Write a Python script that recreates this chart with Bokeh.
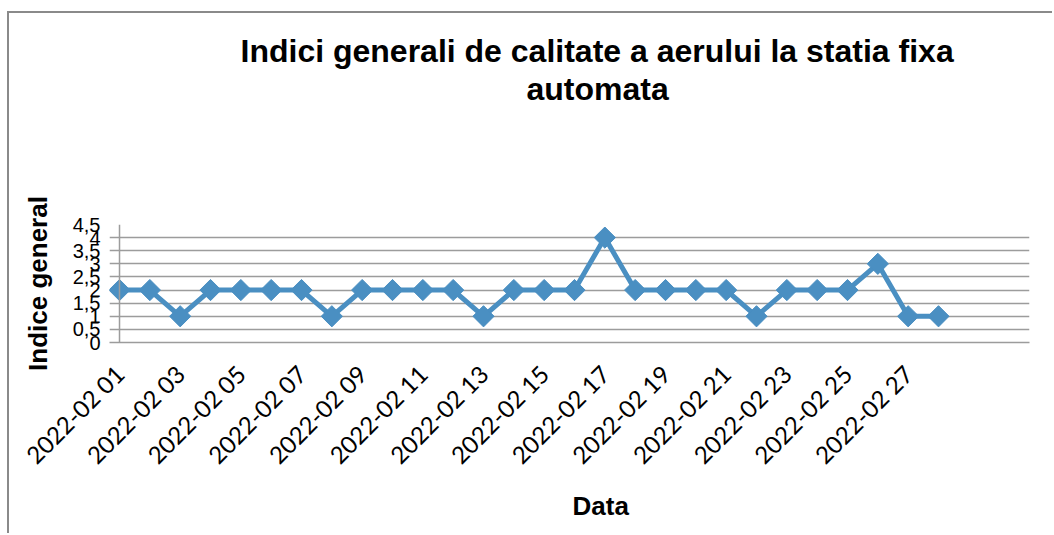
import math
from bokeh.plotting import figure
from bokeh.models import FixedTicker, Range1d, Span, Title
from bokeh.embed import file_html
from bokeh.resources import INLINE

# ---- data ----
dates = ["2022-02 01", "2022-02 02", "2022-02 03", "2022-02 04", "2022-02 05",
         "2022-02 06", "2022-02 07", "2022-02 08", "2022-02 09", "2022-02 10",
         "2022-02 11", "2022-02 12", "2022-02 13", "2022-02 14", "2022-02 15",
         "2022-02 16", "2022-02 17", "2022-02 18", "2022-02 19", "2022-02 20",
         "2022-02 21", "2022-02 22", "2022-02 23", "2022-02 24", "2022-02 25",
         "2022-02 26", "2022-02 27", "2022-02 28"]
values = [2, 2, 1, 2, 2, 2, 2, 1, 2, 2, 2, 2, 1, 2, 2, 2, 4, 2, 2, 2, 2, 1, 2, 2, 2, 3, 1, 1]
y_ticks = [0, 0.5, 1, 1.5, 2, 2.5, 3, 3.5, 4, 4.5]
y_labels = ["0", "0,5", "1", "1,5", "2", "2,5", "3", "3,5", "4", "4,5"]
n_categories = 31  # category slots on the axis
title_lines = ["Indici generali de calitate a aerului la statia fixa", "automata"]
x_title = "Data"
y_title = "Indice general"

xs = list(range(len(values)))
blue = "#4a8fc2"
grid = "#9c9c9c"

p = figure(width=1045, height=522, title=None,
           x_range=Range1d(-0.33, n_categories - 1), y_range=Range1d(0, 4.5),
           output_backend="svg", toolbar_location=None,
           min_border_left=100, min_border_right=25,
           min_border_top=211, min_border_bottom=193)
p.styles = {"margin-left": "7px", "margin-top": "11px",
            "border-left": "2px solid #8a8a8a", "border-top": "2px solid #8a8a8a"}
p.outline_line_color = None
p.background_fill_color = "white"
p.border_fill_color = "white"

# y axis
p.yaxis.ticker = FixedTicker(ticks=y_ticks)
p.yaxis.major_label_overrides = {t: l for t, l in zip(y_ticks, y_labels)}
p.yaxis.axis_line_color = None
p.yaxis.major_tick_out = 0
p.yaxis.major_tick_in = 0
p.yaxis.minor_tick_out = 0
p.yaxis.minor_tick_in = 0
p.yaxis.major_label_standoff = 9
p.yaxis.major_label_text_font = "Liberation Sans"
p.yaxis.major_label_text_font_size = "20px"
p.yaxis.major_label_text_color = "black"
p.yaxis.axis_label = y_title
p.yaxis.axis_label_text_font = "Liberation Sans"
p.yaxis.axis_label_text_font_size = "26px"
p.yaxis.axis_label_text_font_style = "bold"
p.yaxis.axis_label_text_color = "black"
p.yaxis.axis_label_standoff = 17

# x axis
tick_idx = list(range(0, len(dates), 2))
p.xaxis.ticker = FixedTicker(ticks=tick_idx)
p.xaxis.major_label_overrides = {i: dates[i] for i in tick_idx}
p.xaxis.major_label_orientation = math.pi / 4
p.xaxis.axis_line_color = grid
p.xaxis.axis_line_width = 1.5
p.xaxis.major_tick_out = 0
p.xaxis.major_tick_in = 0
p.xaxis.minor_tick_out = 0
p.xaxis.minor_tick_in = 0
p.xaxis.major_label_standoff = 27
p.xaxis.major_label_text_font = "Lato"
p.xaxis.major_label_text_font_size = "24px"
p.xaxis.major_label_text_color = "black"

# grid
p.xgrid.grid_line_color = None
p.ygrid.ticker = FixedTicker(ticks=y_ticks)
p.ygrid.grid_line_color = grid
p.ygrid.grid_line_width = 1.5

# vertical axis line at the first category
p.add_layout(Span(location=0, dimension="height", line_color=grid, line_width=1.5))

# series
p.line(xs, values, line_color=blue, line_width=5)
p.scatter(xs, values, marker="square", angle=math.pi / 4, size=15,
          fill_color=blue, line_color=blue)

# titles (first added is closest to the frame)
p.add_layout(Title(text=" ", align="left", offset=0, standoff=80,
                   text_font="Liberation Sans", text_font_size="32px",
                   text_font_style="bold", text_color="white"), "above")
p.add_layout(Title(text=title_lines[1], align="left", offset=417, standoff=0,
                   text_font="Liberation Sans", text_font_size="32px",
                   text_font_style="bold", text_color="black"), "above")
p.add_layout(Title(text=title_lines[0], align="left", offset=131, standoff=0,
                   text_font="Liberation Sans", text_font_size="32px",
                   text_font_style="bold", text_color="black"), "above")
p.add_layout(Title(text=x_title, align="left", offset=463, standoff=13,
                   text_font="Liberation Sans", text_font_size="26px",
                   text_font_style="bold", text_color="black"), "below")

open("out.html", "w").write(file_html(p, INLINE))
